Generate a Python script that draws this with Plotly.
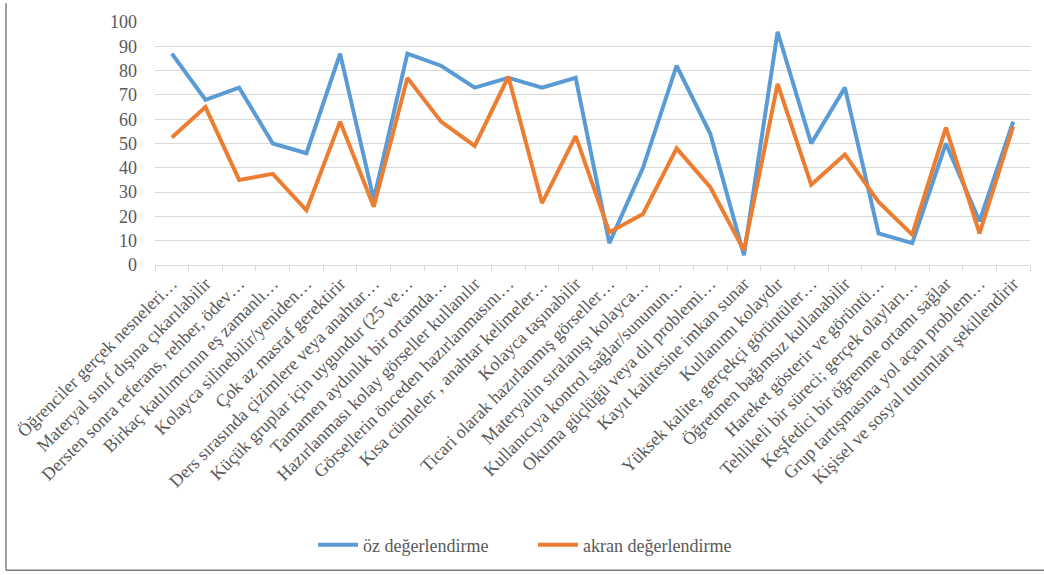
import plotly.graph_objects as go

categories = [
    "Öğrenciler gerçek nesneleri…",
    "Materyal sınıf dışına çıkarılabilir",
    "Dersten sonra referans, rehber, ödev…",
    "Birkaç katılımcının eş zamanlı…",
    "Kolayca silinebilir/yeniden…",
    "Çok az masraf gerektirir",
    "Ders sırasında çizimlere veya anahtar…",
    "Küçük gruplar için uygundur (25 ve…",
    "Tamamen aydınlık bir ortamda…",
    "Hazırlanması kolay görseller kullanılır",
    "Görsellerin önceden hazırlanmasını…",
    "Kısa cümleler , anahtar kelimeler…",
    "Kolayca taşınabilir",
    "Ticari olarak hazırlanmış görseller…",
    "Materyalin sıralanışı kolayca…",
    "Kullanıcıya kontrol sağlar/sununun…",
    "Okuma güçlüğü veya dil problemi…",
    "Kayıt kalitesine imkan sunar",
    "Kullanımı kolaydır",
    "Yüksek kalite, gerçekçi görüntüler…",
    "Öğretmen bağımsız kullanabilir",
    "Hareket gösterir ve görüntü…",
    "Tehlikeli bir süreci; gerçek olayları…",
    "Keşfedici bir öğrenme ortamı sağlar",
    "Grup tartışmasına yol açan problem…",
    "Kişisel ve sosyal tutumları şekillendirir",
]

oz = [87, 68, 73, 50, 46, 87, 27, 87, 82, 73, 77, 73, 77, 9, 40, 82, 54, 4, 96, 50, 73, 13, 9, 50, 18, 59]
akran = [52.5, 65, 35, 37.5, 22.5, 59, 24, 77, 59, 49, 77.5, 25.5, 53, 13.5, 21, 48, 32, 6, 74.5, 33, 45.5, 26, 12.5, 56.5, 13, 57]

series_names = ["öz değerlendirme", "akran değerlendirme"]
colors = ["#5B9BD5", "#ED7D31"]

fig = go.Figure()
for name, vals, col in zip(series_names, [oz, akran], colors):
    fig.add_trace(go.Scatter(
        x=categories, y=vals, mode="lines", name=name,
        line=dict(color=col, width=4),
    ))

font_family = "'Liberation Serif', 'Times New Roman', serif"
gray = "#595959"

L, R, T, B = 155, 1030, 19, 265
W, H = 1044, 575

def px2x(px):
    return (px - L) / (R - L)

def px2y(py):
    return (B - py) / (B - T)

fig.update_layout(
    width=W, height=H,
    margin=dict(l=L, r=W - R, t=T, b=H - B),
    paper_bgcolor="white", plot_bgcolor="white",
    font=dict(family=font_family, color=gray, size=18),
    showlegend=True,
    legend=dict(
        orientation="h", xref="paper", yref="container",
        x=px2x(313), xanchor="left", y=1 - 545 / H, yanchor="middle",
        font=dict(size=18, family=font_family, color=gray),
        itemwidth=40, entrywidth=165,
    ),
    xaxis=dict(
        type="category", tickangle=-45, tickson="boundaries",
        ticks="outside", ticklen=5, tickcolor="#d9d9d9",
        showline=True, linecolor="#d9d9d9", linewidth=1,
        showgrid=False, tickfont=dict(size=18, family=font_family, color=gray),
        range=[-0.5, len(categories) - 0.5],
    ),
    yaxis=dict(
        range=[0, 100], dtick=10, showgrid=True, gridcolor="#d9d9d9", gridwidth=1,
        zeroline=False, showline=False, ticks="",
        tickfont=dict(size=18, family=font_family, color=gray),
        ticklabelstandoff=17,
    ),
    shapes=[
        dict(type="line", xref="paper", yref="paper",
             x0=px2x(6), x1=px2x(6), y0=px2y(574), y1=px2y(0),
             line=dict(color="#7f7f7f", width=1.5)),
        dict(type="line", xref="paper", yref="paper",
             x0=px2x(6), x1=px2x(1044), y0=px2y(574), y1=px2y(574),
             line=dict(color="#7f7f7f", width=1.5)),
    ],
)

fig.write_html("out.html")
